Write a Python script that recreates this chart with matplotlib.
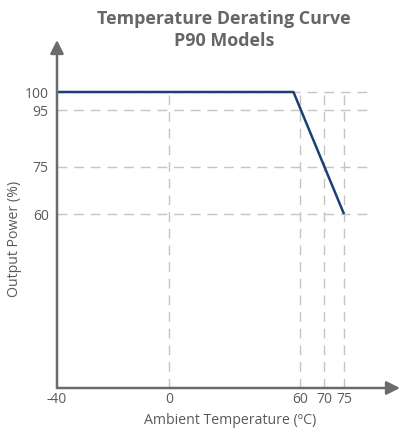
import numpy as np
import matplotlib.pyplot as plt

# derating curve data
temps = [-40, 57, 75]
power = [100, 100, 60]

x_ticks = [-40, 0, 60, 70, 75]
y_ticks = [100, 95, 75, 60]
x_grid = [0, 60, 70, 75]
y_grid = [100, 95, 75, 60]

# non-uniform axis layout (data value -> pixel position)
X_DATA = [-40, 0, 60, 70, 75, 89]
X_PIX = [57, 169, 300, 324, 344, 400]
Y_DATA = [4.4, 60, 75, 95, 100, 117]
Y_PIX = [388, 214, 167, 110, 92, 40]


def fwd(data, pix):
    return lambda v: np.interp(v, data, pix)


def inv(data, pix):
    return lambda p: np.interp(p, pix, data)


Y_PIXN = [-p for p in Y_PIX]

AX_COL = "#6b6b6b"
TXT_COL = "#5a5a5a"
GRID_COL = "#c4c4c4"
LINE_COL = "#1d3f78"

plt.rcParams["font.family"] = ["Open Sans", "DejaVu Sans"]

W, H = 402, 430
fig = plt.figure(figsize=(W / 100, H / 100), dpi=100)
ax = fig.add_axes([57 / W, (H - 388) / H, (400 - 57) / W, (388 - 40) / H])

ax.set_xscale("function", functions=(fwd(X_DATA, X_PIX), inv(X_DATA, X_PIX)))
ax.set_yscale("function", functions=(fwd(Y_DATA, Y_PIXN), inv(Y_DATA, Y_PIXN)))
ax.set_xlim(X_DATA[0], X_DATA[-1])
ax.set_ylim(Y_DATA[0], Y_DATA[-1])

grid_right = 82
for yv in y_grid:
    ax.plot([-40, grid_right], [yv, yv], color=GRID_COL, lw=1,
            dashes=(7, 5), zorder=1)
for xv in x_grid:
    ax.plot([xv, xv], [Y_DATA[0], 100], color=GRID_COL, lw=1,
            dashes=(7, 5), zorder=1)

ax.plot(temps, power, color=LINE_COL, lw=1.8, zorder=3, solid_capstyle="butt")

for s in ax.spines.values():
    s.set_visible(False)

# axes with arrow heads
ax.annotate("", xy=(1.0, 0), xytext=(0, 0), xycoords="axes fraction",
            arrowprops=dict(arrowstyle="-|>", color=AX_COL, lw=1.8,
                            mutation_scale=20, shrinkA=0, shrinkB=0))
ax.annotate("", xy=(0, 1.0), xytext=(0, 0), xycoords="axes fraction",
            arrowprops=dict(arrowstyle="-|>", color=AX_COL, lw=1.8,
                            mutation_scale=20, shrinkA=0, shrinkB=0))

ax.set_xticks(x_ticks)
ax.set_xticklabels([str(t) for t in x_ticks])
ax.set_yticks(y_ticks)
ax.set_yticklabels([str(t) for t in y_ticks])
ax.tick_params(length=0, labelsize=10, colors=TXT_COL, pad=3)
ax.tick_params(axis="y", pad=6)

fig.text(230 / W, 1 - 421 / H, "Ambient Temperature (ºC)", ha="center",
         va="center", fontsize=10.2, color=TXT_COL)
fig.text(15 / W, 1 - 239 / H, "Output Power (%)", ha="center", va="center",
         rotation=90, fontsize=10.2, color=TXT_COL)

fig.text(224 / W, 1 - 30 / H, "Temperature Derating Curve\nP90 Models",
         ha="center", va="center", fontsize=12.9, fontweight="bold",
         color="#666666", linespacing=1.35)

fig.savefig("out.png", dpi=100)
